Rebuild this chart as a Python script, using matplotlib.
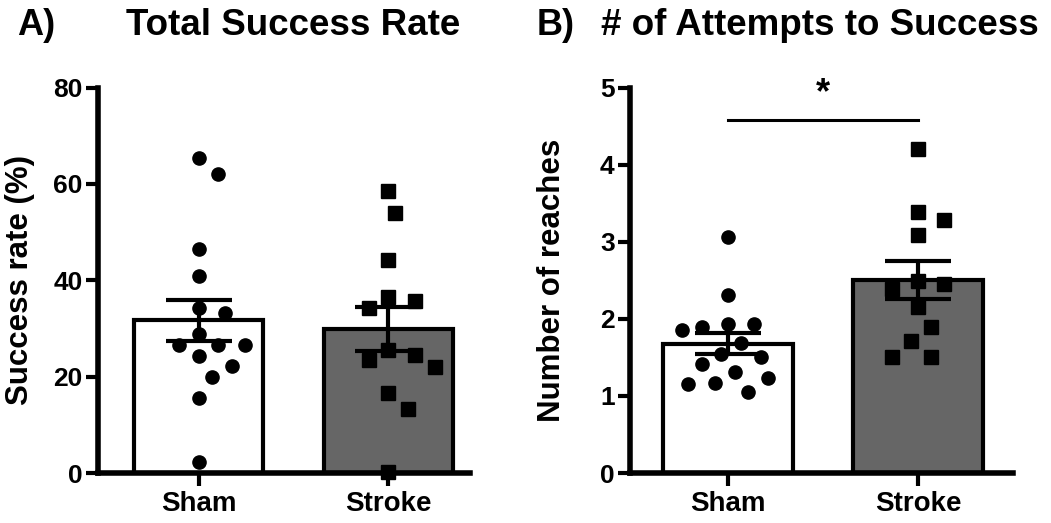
import numpy as np
import matplotlib
matplotlib.use("Agg")
import matplotlib.pyplot as plt

plt.rcParams['font.family'] = ['Liberation Sans', 'DejaVu Sans']
plt.rcParams['font.weight'] = 'bold'

groups = ['Sham', 'Stroke']
bar_colors = ['white', '#666666']

# A) total success rate (%)
sham_rate = [65.3, 62.0, 46.5, 40.8, 34.3, 33.3, 28.9, 26.5, 26.5, 26.5, 24.3, 22.2, 20.0, 15.5, 2.3]
stroke_rate = [58.5, 54.0, 44.3, 36.5, 35.8, 34.3, 25.5, 24.4, 23.4, 22.0, 16.7, 13.2, 0.3]
rate_mean = [31.7, 29.85]
rate_sem = [4.2, 4.55]

# B) number of reaches to success
sham_reach = [3.06, 2.31, 1.93, 1.93, 1.89, 1.85, 1.69, 1.55, 1.50, 1.42, 1.31, 1.23, 1.17, 1.15, 1.05]
stroke_reach = [4.20, 3.38, 3.28, 3.09, 2.49, 2.45, 2.39, 2.15, 1.89, 1.71, 1.51, 1.51]
reach_mean = [1.675, 2.505]
reach_sem = [0.135, 0.245]


def swarm(ax, xc, vals, diam_px, gap=1.65):
    # greedy beeswarm in display pixels, wide spacing like Prism
    pts = ax.transData.transform([(xc, v) for v in vals])
    inv = ax.transData.inverted()
    placed = []
    xs = np.zeros(len(vals))
    step = diam_px / 2
    for i in np.argsort(vals)[::-1]:
        px, py = pts[i]
        for k in [0, 1, -1, 2, -2, 3, -3, 4, -4, 5, -5, 6, -6, 7, -7]:
            cx = px + k * step
            if all(np.hypot(cx - qx, py - qy) >= diam_px * gap for qx, qy in placed):
                break
        placed.append((cx, py))
        xs[i] = inv.transform((cx, py))[0]
    return xs


def panel(ax, data, means, sems, ylim, yticks, ylabel, xlim):
    ax.set_xlim(*xlim)
    ax.set_ylim(*ylim)
    x = np.arange(len(groups))
    ax.bar(x, means, width=0.68, color=bar_colors, edgecolor='black', linewidth=3, zorder=1)
    ms = 9.5
    diam = ms * 100 / 72
    for xi, vals, mk in zip(x, data, ['o', 's']):
        xs = swarm(ax, xi, vals, diam)
        ax.plot(xs, vals, linestyle='none', marker=mk, markersize=ms,
                color='black', zorder=3, clip_on=False)
    ax.errorbar(x, means, yerr=sems, fmt='none', ecolor='black', elinewidth=3,
                capsize=24, capthick=3, zorder=4)
    for s in ['top', 'right']:
        ax.spines[s].set_visible(False)
    for s in ['left', 'bottom']:
        ax.spines[s].set_linewidth(4)
    ax.set_yticks(yticks)
    ax.set_xticks(x)
    ax.set_xticklabels(groups)
    ax.tick_params(axis='both', length=9, width=3, pad=2)
    ax.tick_params(axis='y', labelsize=19)
    ax.tick_params(axis='x', labelsize=20, pad=4)
    for lab in ax.get_xticklabels() + ax.get_yticklabels():
        lab.set_fontweight('bold')
    ax.set_ylabel(ylabel, fontsize=22.5, fontweight='bold')


fig = plt.figure(figsize=(10.51, 5.23), dpi=100)
ax1 = fig.add_axes([0.0932, 0.0956, 0.354, 0.737])
ax2 = fig.add_axes([0.5994, 0.0956, 0.3644, 0.737])

panel(ax1, [sham_rate, stroke_rate], rate_mean, rate_sem, (0, 80), [0, 20, 40, 60, 80],
      'Success rate (%)', (-0.53, 1.43))
panel(ax2, [sham_reach, stroke_reach], reach_mean, reach_sem, (0, 5), [0, 1, 2, 3, 4, 5],
      'Number of reaches', (-0.516, 1.5))
ax1.yaxis.set_label_coords(-0.169, 0.5)
ax2.yaxis.set_label_coords(-0.164, 0.5)

# significance bar
ax2.plot([0, 1], [4.58, 4.58], color='black', linewidth=2.2, zorder=5)
ax2.text(0.5, 4.7, '*', ha='center', va='bottom', fontsize=26, fontweight='bold')

fig.text(0.016, 0.952, 'A)', fontsize=26, fontweight='bold', va='center', ha='left')
fig.text(0.279, 0.952, 'Total Success Rate', fontsize=26.5, fontweight='bold', va='center', ha='center')
fig.text(0.511, 0.952, 'B)', fontsize=26, fontweight='bold', va='center', ha='left')
fig.text(0.780, 0.952, '# of Attempts to Success', fontsize=26.5, fontweight='bold', va='center', ha='center')

fig.savefig('out.png', dpi=100)
